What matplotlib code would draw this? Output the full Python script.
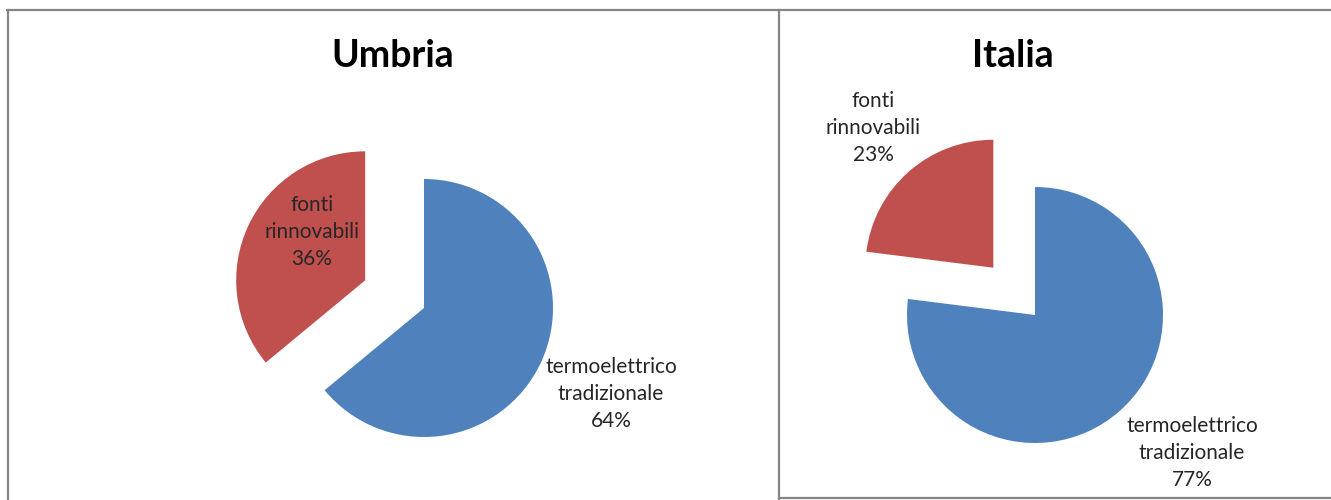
import matplotlib
matplotlib.use("Agg")
import matplotlib.pyplot as plt
from matplotlib.lines import Line2D

# dati
regioni = ["Umbria", "Italia"]
categorie = ["termoelettrico\ntradizionale", "fonti\nrinnovabili"]
umbria = [64, 36]
italia = [77, 23]
colori = ["#4F81BD", "#C0504D"]

plt.rcParams['font.family'] = ['Lato', 'DejaVu Sans']

W, H = 1331, 500
fig = plt.figure(figsize=(W / 100, H / 100), dpi=100)
ax = fig.add_axes([0, 0, 1, 1])

# coordinate in pixel (y verso l'alto)
def py(y):
    return H - y

# torte (explode in pixel, dato che il raggio non e' 1)
ax.pie(umbria, colors=colori, startangle=90, counterclock=False,
       explode=[0, 65], center=(424, py(308)), radius=129,
       wedgeprops=dict(linewidth=0))
ax.pie(italia, colors=colori, startangle=90, counterclock=False,
       explode=[0, 63], center=(1035, py(315)), radius=128,
       wedgeprops=dict(linewidth=0))

ax.set_xlim(0, W)
ax.set_ylim(0, H)
ax.set_aspect('equal')
ax.axis('off')

# titoli
ax.text(393, py(56), regioni[0], ha='center', va='center', fontsize=27,
        fontweight='bold', color='black')
ax.text(1013, py(56), regioni[1], ha='center', va='center', fontsize=27,
        fontweight='bold', color='black')

# etichette
def etichetta(x, y, cat, val):
    ax.text(x, py(y), f"{cat}\n{val}%", ha='center', va='center',
            fontsize=15, color='#262626', linespacing=1.45)

etichetta(312, 232, categorie[1], umbria[1])
etichetta(611, 394, categorie[0], umbria[0])
etichetta(873, 128, categorie[1], italia[1])
etichetta(1192, 453, categorie[0], italia[0])

# bordi dei riquadri
grigio = '#868686'
linee = [((7, W), (10, 10)), ((8, 8), (10, H)), ((779, 779), (10, H)),
         ((779, W), (498, 498))]
for xs, ys in linee:
    fig.add_artist(Line2D([x / W for x in xs], [1 - y / H for y in ys],
                          color=grigio, linewidth=1.6,
                          transform=fig.transFigure))

fig.savefig("out.png", dpi=100)
